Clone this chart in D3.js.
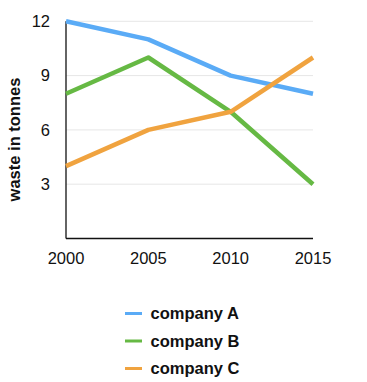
<!DOCTYPE html>
<html><head><meta charset="utf-8">
<script src="https://cdn.jsdelivr.net/npm/d3@7"></script>
<style>body{margin:0;background:#fff;}svg{display:block;font-family:"Liberation Sans",Arial,Helvetica,sans-serif;}</style>
</head><body>
<svg id="c" width="367" height="382"></svg>
<script>
const years = [2000, 2005, 2010, 2015];
const seriesNames = ["company A", "company B", "company C"];
const companyA = [12, 11, 9, 8];
const companyB = [8, 10, 7, 3];
const companyC = [4, 6, 7, 10];
const yTicks = [3, 6, 9, 12];
const colors = ["#5AABF6", "#66B944", "#F0A33F"];

const svg = d3.select("#c");
const x = d3.scaleLinear().domain([2000, 2015]).range([66, 313]);
const y = d3.scaleLinear().domain([0, 12]).range([238.5, 21.3]);

// gridlines
svg.append("g").selectAll("line").data(yTicks).join("line")
  .attr("x1", 66).attr("x2", 313)
  .attr("y1", d => y(d)).attr("y2", d => y(d))
  .attr("stroke", "#e6e6e6").attr("stroke-width", 1);

// axes lines
svg.append("line").attr("x1", 66).attr("x2", 66).attr("y1", y(12)).attr("y2", y(0)).attr("stroke", "#111").attr("stroke-width", 1.3);
svg.append("line").attr("x1", 66).attr("x2", 313).attr("y1", y(0)).attr("y2", y(0)).attr("stroke", "#111").attr("stroke-width", 1.3);

// y tick labels
svg.append("g").selectAll("text").data(yTicks).join("text")
  .attr("x", 50).attr("y", d => y(d)).attr("dy", "0.35em")
  .attr("text-anchor", "end").attr("font-size", 16.5).attr("fill", "#111")
  .text(d => d);

// x tick labels
svg.append("g").selectAll("text").data(years).join("text")
  .attr("x", d => x(d)).attr("y", 264)
  .attr("text-anchor", "middle").attr("font-size", 16.5).attr("fill", "#111")
  .text(d => d);

// y label
svg.append("text").attr("transform", "translate(20,139.5) rotate(-90)")
  .attr("text-anchor", "middle").attr("font-size", 16.5).attr("font-weight", "bold").attr("fill", "#111")
  .text("waste in tonnes");

const data = [companyA, companyB, companyC];
const line = d3.line().x((d, i) => x(years[i])).y(d => y(d));
svg.append("g").selectAll("path").data(data).join("path")
  .attr("d", line).attr("fill", "none")
  .attr("stroke", (d, i) => colors[i]).attr("stroke-width", 4.5)
  .attr("stroke-linejoin", "round");

// legend
const lg = svg.append("g").selectAll("g").data(seriesNames).join("g")
  .attr("transform", (d, i) => `translate(125,${313.5 + i * 27.5})`);
lg.append("line").attr("x1", 0).attr("x2", 17).attr("y1", 0).attr("y2", 0)
  .attr("stroke", (d, i) => colors[i]).attr("stroke-width", 3);
lg.append("text").attr("x", 25.5).attr("y", 0).attr("dy", "0.35em")
  .attr("font-size", 16.5).attr("font-weight", "bold").attr("fill", "#111")
  .text(d => d);
</script>
</body></html>
